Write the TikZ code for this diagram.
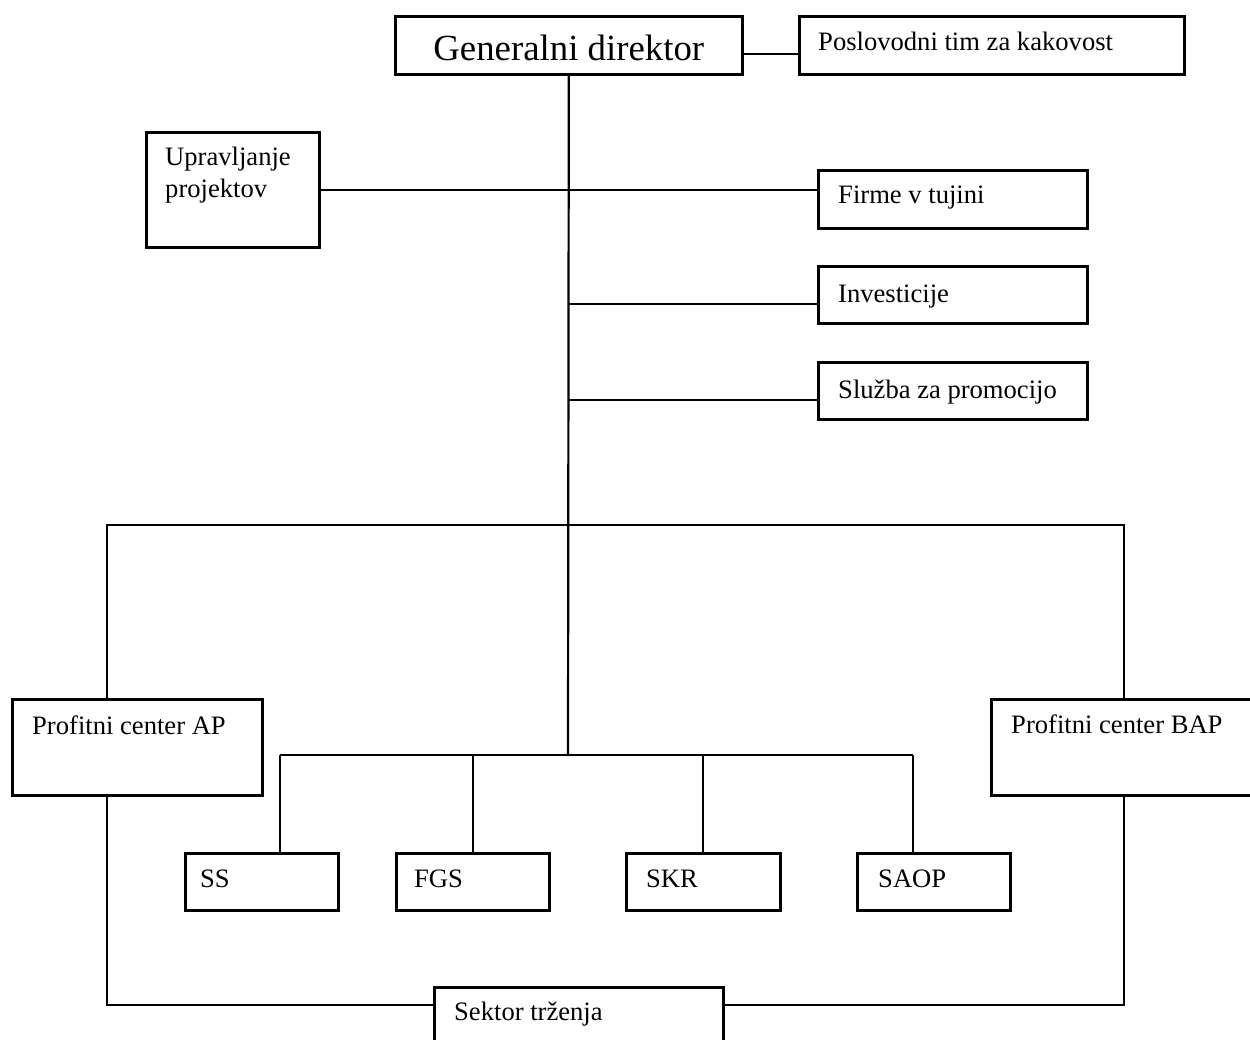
\documentclass[tikz,border=0pt]{standalone}
\usepackage{fontspec}
\setmainfont{Liberation Serif}
\usetikzlibrary{positioning}

\begin{document}
\begin{tikzpicture} [
        x=1pt, y=-1pt,
        unitbox/.style={
            rectangle,
            draw,
            line width=2.6pt,
            inner sep=0pt,
            anchor=north west
        },
        unitname/.style={
            anchor=base west,
            inner sep=0pt,
            font=\fontsize{26.6}{31.7}\selectfont
        },
        link/.style={
            line width=2.2pt
        }
    ]
    \useasboundingbox (0,0) rectangle (1250,1039);
    \clip (0,0) rectangle (1250,1039);

    % boxes
    \node[unitbox, minimum width=347pt, minimum height=58pt]  (gd)   at (394,15)  {};
    \node[unitbox, minimum width=385pt, minimum height=58pt]  (ptk)  at (798,15)  {};
    \node[unitbox, minimum width=173pt, minimum height=115pt] (up)   at (145,131) {};
    \node[unitbox, minimum width=269pt, minimum height=58pt]  (ft)   at (817,169) {};
    \node[unitbox, minimum width=269pt, minimum height=57pt]  (inv)  at (817,265) {};
    \node[unitbox, minimum width=269pt, minimum height=57pt]  (sp)   at (817,361) {};
    \node[unitbox, minimum width=250pt, minimum height=96pt]  (ap)   at (11,698)  {};
    \node[unitbox, minimum width=280pt, minimum height=96pt]  (bap)  at (990,698) {};
    \node[unitbox, minimum width=153pt, minimum height=57pt]  (ss)   at (184,852) {};
    \node[unitbox, minimum width=153pt, minimum height=57pt]  (fgs)  at (395,852) {};
    \node[unitbox, minimum width=154pt, minimum height=57pt]  (skr)  at (625,852) {};
    \node[unitbox, minimum width=153pt, minimum height=57pt]  (saop) at (856,852) {};
    \node[unitbox, minimum width=289pt, minimum height=80pt]  (st)   at (433,986) {};

    % names
    \node[unitname, anchor=base, font=\fontsize{36.8}{44}\selectfont] (gdt) at ([yshift=-45pt]gd.north) {Generalni direktor};
    \node[unitname] (ptkt)  at ([xshift=20pt,yshift=-35pt]ptk.north west)  {Poslovodni tim za kakovost};
    \node[unitname] (upt)   at ([xshift=20pt,yshift=-34pt]up.north west)   {Upravljanje};
    \node[unitname] (upt2)  at ([yshift=-32pt]upt.base west)               {projektov};
    \node[unitname] (ftt)   at ([xshift=21pt,yshift=-34pt]ft.north west)   {Firme v tujini};
    \node[unitname] (invt)  at ([xshift=21pt,yshift=-37pt]inv.north west)  {Investicije};
    \node[unitname] (spt)   at ([xshift=21pt,yshift=-37pt]sp.north west)   {Služba za promocijo};
    \node[unitname] (apt)   at ([xshift=21pt,yshift=-36pt]ap.north west)   {Profitni center AP};
    \node[unitname] (bapt)  at ([xshift=21pt,yshift=-35pt]bap.north west)  {Profitni center BAP};
    \node[unitname] (sst)   at ([xshift=16pt,yshift=-35pt]ss.north west)   {SS};
    \node[unitname] (fgst)  at ([xshift=19pt,yshift=-35pt]fgs.north west)  {FGS};
    \node[unitname] (skrt)  at ([xshift=21pt,yshift=-35pt]skr.north west)  {SKR};
    \node[unitname] (saopt) at ([xshift=22pt,yshift=-35pt]saop.north west) {SAOP};
    \node[unitname] (stt)   at ([xshift=21pt,yshift=-34pt]st.north west)   {Sektor trženja};

    % joints
    \coordinate (bus)  at (568,755);
    \coordinate (apl)  at (107,525);
    \coordinate (bapl) at (1124,525);
    \coordinate (stl)  at (107,1005);
    \coordinate (bl)   at (280,755);
    \coordinate (br)   at (913,755);

    % lines
    \draw[link] ([yshift=-9pt]gd.east) -- ([yshift=-9pt]ptk.west);
    \draw[link] (gd.south) -- (bus);
    \draw[link] (up.east) -- (up.east -| ft.west);
    \draw[link] ([yshift=-9pt]inv.west) -- ([yshift=-9pt]inv.west -| gd.south);
    \draw[link] ([yshift=-9pt]sp.west) -- ([yshift=-9pt]sp.west -| gd.south);
    \draw[link] (apl |- ap.north) -- (apl) -- (bapl) -- (bapl |- bap.north);
    \draw[link] (apl |- ap.south) -- (stl) -- (stl -| st.west);
    \draw[link] (bapl |- bap.south) -- (bapl |- stl) -- (stl -| st.east);
    \draw[link] (bl) -- (br);
    \draw[link] (bl) -- (bl |- ss.north);
    \draw[link] (fgs.north) -- (fgs.north |- bus);
    \draw[link] (skr.north) -- (skr.north |- bus);
    \draw[link] (br) -- (br |- saop.north);
\end{tikzpicture}
\end{document}
